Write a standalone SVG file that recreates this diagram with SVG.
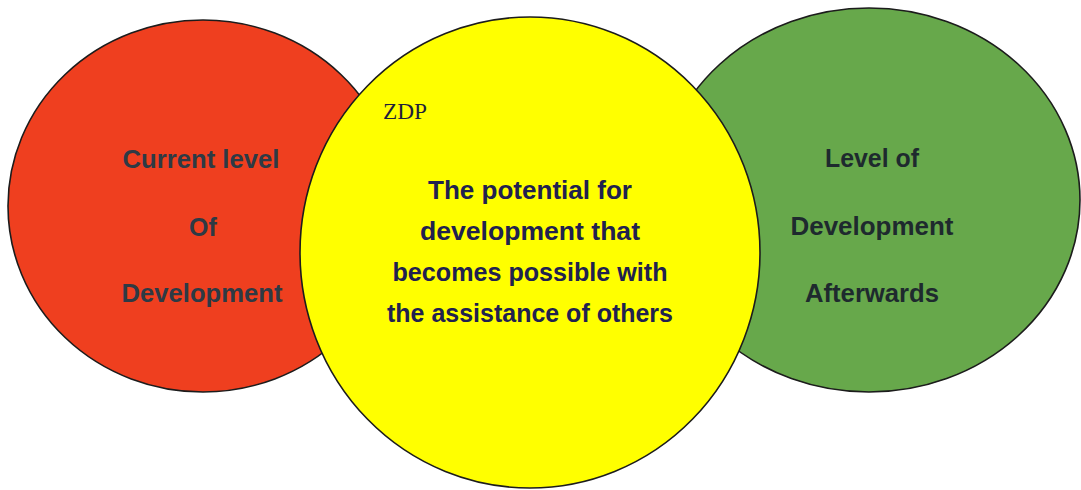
<svg xmlns="http://www.w3.org/2000/svg" width="1081" height="490" viewBox="0 0 1081 490">
<style>
.c{stroke:#1c1c1c;stroke-width:1.6}
.t{font-family:"Liberation Sans",Arial,sans-serif;font-weight:bold;font-size:25px;text-anchor:middle}
</style>
<rect width="1081" height="490" fill="#ffffff"/>
<g id="current">
<ellipse class="c" cx="203" cy="206" rx="195" ry="186" fill="#EF3F1F"/>
<text class="t" x="201" y="168" fill="#2d3a45" textLength="157" lengthAdjust="spacingAndGlyphs">Current level</text>
<text class="t" x="203" y="236" fill="#2d3a45">Of</text>
<text class="t" x="202" y="302" fill="#2d3a45" textLength="161" lengthAdjust="spacingAndGlyphs">Development</text>
</g>
<g id="afterwards">
<ellipse class="c" cx="869" cy="200" rx="211" ry="192" fill="#67A84B"/>
<text class="t" x="872" y="167" fill="#1e2a2e" textLength="94" lengthAdjust="spacingAndGlyphs">Level of</text>
<text class="t" x="872" y="235" fill="#1e2a2e" textLength="163" lengthAdjust="spacingAndGlyphs">Development</text>
<text class="t" x="872" y="302" fill="#1e2a2e" textLength="134" lengthAdjust="spacingAndGlyphs">Afterwards</text>
</g>
<g id="zdp">
<ellipse class="c" cx="530" cy="252.5" rx="230" ry="235.5" fill="#FFFF00" stroke="#1a1a2e"/>
<text x="383" y="119" font-family="'Liberation Serif','Times New Roman',serif" font-size="23" fill="#1f1f3a" textLength="44" lengthAdjust="spacingAndGlyphs">ZDP</text>
<text class="t" x="530" y="199" fill="#21214f" textLength="204" lengthAdjust="spacingAndGlyphs">The potential for</text>
<text class="t" x="530" y="240" fill="#21214f" textLength="220" lengthAdjust="spacingAndGlyphs">development that</text>
<text class="t" x="530" y="281" fill="#21214f" textLength="275" lengthAdjust="spacingAndGlyphs">becomes possible with</text>
<text class="t" x="530" y="322" fill="#21214f" textLength="286" lengthAdjust="spacingAndGlyphs">the assistance of others</text>
</g>
<g id="connectors"/>
</svg>
